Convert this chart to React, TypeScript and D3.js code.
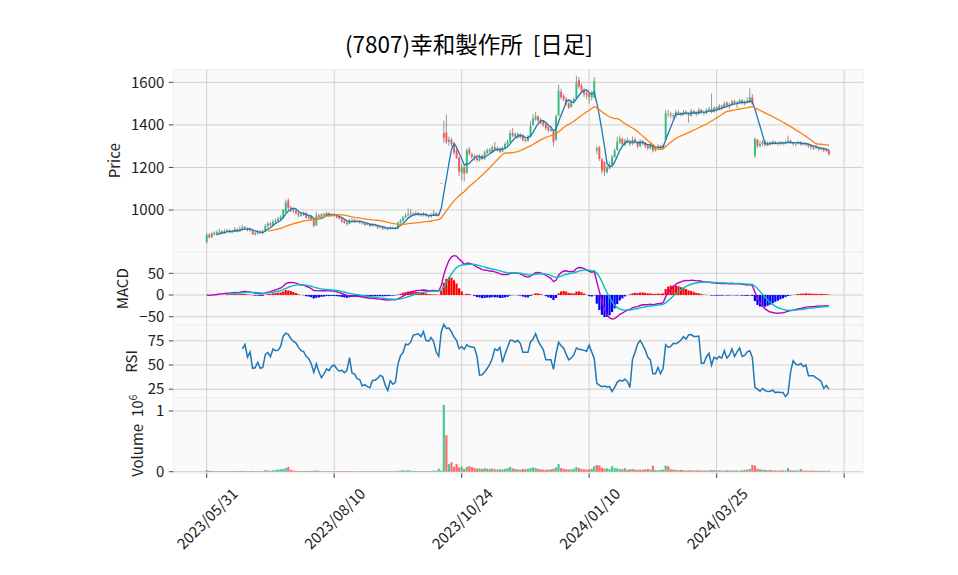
import React from 'react';
import * as d3 from 'd3';

const title = '(7807)幸和製作所\u00a0\u00a0[日足]';
const tickIdx = [0, 50, 100, 150, 200, 250];
const tickLabels = ['2023/05/31', '2023/08/10', '2023/10/24', '2024/01/10', '2024/03/25', ''];
const priceTicks = [1000, 1200, 1400, 1600];
const macdTicks = [-50, 0, 50];
const rsiTicks = [25, 50, 75];
const volTicks = [0, 1];

const opens = [
  850,885,872,893,884,890,900,890,898,906,
  895,900,910,900,910,920,915,903,905,885,
  890,900,892,900,925,938,930,945,950,955,
  965,990,1045,1012,1000,995,985,972,978,985,
  962,970,955,928,975,965,982,975,985,972,
  980,975,968,960,948,942,935,950,955,945,
  948,940,938,930,935,925,932,928,918,920,
  912,915,910,918,915,912,940,950,965,975,
  985,978,980,985,978,975,982,972,968,975,
  985,975,1125,1360,1365,1320,1330,1305,1280,1245,
  1175,1200,1175,1285,1262,1252,1245,1232,1255,1240,
  1268,1285,1272,1295,1280,1290,1275,1290,1308,1320,
  1362,1345,1358,1342,1352,1332,1325,1345,1400,1425,
  1440,1425,1415,1402,1390,1372,1370,1330,1445,1555,
  1535,1522,1500,1485,1510,1525,1610,1585,1565,1548,
  1545,1530,1530,1280,1295,1238,1225,1178,1195,1212,
  1248,1282,1318,1335,1305,1328,1322,1310,1332,1320,
  1300,1325,1315,1302,1290,1305,1280,1292,1300,1290,
  1330,1452,1450,1445,1440,1460,1455,1448,1462,1455,
  1442,1465,1460,1450,1470,1460,1455,1470,1475,1460,
  1482,1470,1490,1480,1505,1488,1495,1512,1500,1505,
  1515,1500,1510,1505,1530,1255,1330,1300,1310,1320,
  1305,1318,1310,1320,1315,1310,1318,1312,1318,1325,
  1315,1310,1312,1320,1308,1312,1310,1302,1298,1290,
  1295,1285,1290,1282,1280,
];
const highs = [
  892,890,895,900,905,912,905,910,912,910,
  908,920,915,925,930,925,918,916,908,900,
  905,904,908,935,945,942,955,960,968,975,
  1005,1048,1055,1020,1008,1000,990,988,992,990,
  978,975,960,990,982,985,988,992,990,985,
  985,980,972,962,955,948,958,962,958,955,
  952,948,942,942,938,938,936,932,928,924,
  922,918,924,922,920,945,958,972,985,1008,
  1005,990,995,990,985,990,986,978,985,1000,
  990,986,1125,1420,1450,1345,1340,1310,1290,1250,
  1215,1210,1290,1295,1270,1262,1250,1262,1260,1280,
  1290,1290,1305,1320,1300,1295,1298,1318,1330,1375,
  1385,1365,1362,1360,1358,1340,1352,1420,1450,1462,
  1445,1432,1420,1410,1395,1392,1375,1450,1590,1570,
  1545,1530,1510,1520,1530,1630,1625,1595,1575,1560,
  1555,1560,1625,1300,1300,1245,1230,1210,1225,1260,
  1290,1345,1350,1340,1335,1340,1330,1345,1340,1325,
  1332,1330,1320,1310,1315,1310,1300,1308,1305,1312,
  1470,1470,1462,1455,1470,1468,1460,1470,1468,1460,
  1475,1470,1465,1480,1475,1468,1478,1485,1548,1488,
  1486,1498,1495,1508,1510,1505,1518,1518,1512,1522,
  1520,1515,1530,1572,1545,1340,1335,1325,1330,1325,
  1322,1322,1328,1325,1320,1325,1322,1328,1350,1330,
  1320,1318,1325,1324,1318,1316,1314,1308,1302,1305,
  1298,1296,1294,1290,1284,
];
const lows = [
  842,865,868,880,880,886,885,888,894,890,
  890,896,895,897,905,908,900,898,882,880,
  885,886,885,898,918,922,925,938,945,950,
  960,985,1000,990,985,978,965,968,972,960,
  958,950,918,925,962,960,970,972,968,968,
  970,960,955,940,935,925,932,945,940,940,
  935,932,925,928,920,922,922,912,914,906,
  908,904,908,910,906,910,936,946,960,970,
  972,972,975,972,968,970,968,962,965,972,
  970,970,1125,1313,1310,1300,1300,1260,1240,1160,
  1140,1135,1170,1255,1240,1232,1225,1228,1235,1236,
  1262,1265,1270,1280,1275,1268,1270,1285,1300,1315,
  1342,1338,1335,1335,1322,1318,1320,1340,1395,1420,
  1412,1402,1390,1375,1365,1368,1300,1325,1440,1520,
  1510,1490,1475,1480,1500,1520,1570,1550,1530,1520,
  1500,1515,1525,1262,1230,1170,1160,1170,1190,1208,
  1245,1278,1310,1300,1300,1312,1300,1305,1312,1290,
  1295,1305,1290,1280,1285,1270,1275,1285,1282,1285,
  1325,1435,1430,1425,1435,1445,1440,1445,1448,1410,
  1440,1450,1440,1448,1452,1445,1450,1465,1455,1458,
  1462,1468,1475,1478,1485,1475,1490,1495,1480,1498,
  1495,1492,1500,1502,1495,1245,1290,1295,1300,1298,
  1300,1302,1305,1308,1302,1305,1305,1308,1315,1310,
  1302,1300,1308,1302,1304,1300,1292,1285,1282,1286,
  1278,1280,1272,1272,1255,
];
const closes = [
  882,872,890,885,895,898,892,900,905,898,
  902,908,900,912,918,915,905,910,888,892,
  898,893,900,925,935,930,945,950,958,968,
  1000,1035,1010,1000,995,985,975,980,985,965,
  970,955,925,975,968,980,975,985,972,980,
  975,965,960,945,940,935,950,955,945,948,
  940,938,930,935,925,932,928,918,920,912,
  915,910,918,915,912,940,950,965,975,980,
  980,980,985,978,975,982,972,968,975,985,
  975,980,1125,1340,1320,1330,1310,1270,1245,1180,
  1200,1170,1280,1265,1250,1245,1235,1255,1240,1270,
  1280,1275,1295,1285,1290,1275,1290,1310,1320,1360,
  1350,1355,1345,1350,1330,1325,1345,1395,1430,1440,
  1420,1410,1400,1385,1375,1380,1320,1440,1560,1530,
  1520,1500,1480,1510,1520,1600,1580,1560,1545,1540,
  1530,1550,1605,1290,1240,1185,1180,1200,1215,1250,
  1280,1320,1335,1310,1325,1320,1310,1330,1320,1300,
  1325,1315,1300,1290,1305,1280,1295,1300,1290,1305,
  1455,1450,1445,1440,1460,1455,1450,1460,1455,1445,
  1465,1460,1450,1470,1460,1455,1470,1475,1460,1480,
  1470,1490,1480,1500,1490,1495,1510,1500,1505,1515,
  1500,1510,1505,1530,1500,1335,1300,1310,1320,1305,
  1315,1310,1320,1315,1310,1318,1312,1320,1325,1315,
  1310,1312,1320,1308,1312,1310,1300,1295,1290,1295,
  1285,1290,1280,1280,1262,
];
// volume in thousands of shares
const volumesK = [
  25,15,12,10,12,8,10,12,9,11,
  10,14,9,12,15,10,9,8,14,10,
  9,8,10,25,20,14,22,30,35,40,
  45,60,80,30,18,15,12,10,12,14,
  10,12,18,20,12,10,9,11,10,8,
  9,8,10,12,10,9,11,8,7,8,
  7,8,9,7,10,8,7,9,8,10,
  8,9,7,8,9,15,18,22,20,25,
  18,12,14,10,9,12,10,9,11,20,
  15,50,20,1100,600,125,155,80,125,70,
  85,45,80,90,75,60,50,55,45,60,
  50,45,55,40,35,40,38,45,60,80,
  55,45,40,35,45,40,50,60,70,60,
  45,40,35,30,35,40,50,70,125,60,
  45,40,35,40,50,75,60,45,40,35,
  40,50,90,110,105,65,50,55,45,90,
  60,55,45,40,60,35,40,45,35,30,
  35,30,40,45,35,100,30,25,30,35,
  100,90,40,35,30,25,30,25,20,25,
  25,20,22,25,20,18,22,20,30,25,
  20,22,18,20,25,20,18,22,20,18,
  25,30,35,45,110,100,50,40,35,30,
  25,30,22,20,18,20,22,18,60,25,
  20,22,18,45,20,18,15,18,16,14,
  15,12,14,13,15,
];

// ---------- indicators ----------
function sma(arr: number[], n: number): (number | null)[] {
  return arr.map((_, i) => (i < n - 1 ? null : (d3.mean(arr.slice(i - n + 1, i + 1)) as number)));
}
function ema(arr: number[], span: number): number[] {
  const a = 2 / (span + 1);
  const out: number[] = [];
  arr.forEach((v, i) => out.push(i === 0 ? v : a * v + (1 - a) * out[i - 1]));
  return out;
}
function rsiCalc(arr: number[], n: number): (number | null)[] {
  const diff = arr.map((v, i) => (i === 0 ? 0 : v - arr[i - 1]));
  return arr.map((_, i) => {
    if (i < n) return null;
    const w = diff.slice(i - n + 1, i + 1);
    const g = d3.sum(w, (d) => (d > 0 ? d : 0));
    const l = d3.sum(w, (d) => (d < 0 ? -d : 0));
    return (100 * g) / (g + l);
  });
}

const W = 958;
const H = 575;
const X0 = 173.3;
const X1 = 863;
const FONT = "'Noto Sans CJK JP', 'Noto Sans', sans-serif";
const FACE = '#fafafa';
const GRID = '#d0d0d0';
const TFS = 15;
const UP = '#1cb86e';
const DOWN = '#fb4345';

export default function App() {
  const n = closes.length;
  const idx = d3.range(n);
  const x = d3.scaleLinear().domain([-13.1, 257.4]).range([X0, X1]);

  const pTop = 69.5, pBot = 252;
  const mTop = 252.5, mBot = 325;
  const rTop = 325.5, rBot = 397.5;
  const vTop = 398, vBot = 473.5;

  const yP = d3.scaleLinear().domain([802.7, 1660.2]).range([pBot, pTop]);
  const yM = d3.scaleLinear().domain([-69.1, 97.9]).range([mBot, mTop]);
  const yR = d3.scaleLinear().domain([16.4, 90.9]).range([rBot, rTop]);
  const yV = d3.scaleLinear().domain([-0.0297, 1.214]).range([vBot, vTop]);

  const ma5 = sma(closes, 5);
  const ma25 = sma(closes, 25);
  const e12 = ema(closes, 12);
  const e26 = ema(closes, 26);
  const macd = e12.map((v, i) => v - e26[i]);
  const sig = ema(macd, 9);
  const hist = macd.map((v, i) => v - sig[i]);
  const rsi = rsiCalc(closes, 14);

  const lineOf = (vals: (number | null)[], ys: d3.ScaleLinear<number, number>, start = 0) =>
    d3
      .line<number>()
      .defined((i) => i >= start && vals[i] != null)
      .x((i) => x(i))
      .y((i) => ys(vals[i] as number))(idx) || '';

  const bw = 1.9;
  const vw = 2.2;

  const panels = [
    { top: pTop, bot: pBot, ys: yP, ticks: priceTicks, fmt: (v: number) => String(v) },
    { top: mTop, bot: mBot, ys: yM, ticks: macdTicks, fmt: (v: number) => (v < 0 ? '\u2212' + Math.abs(v) : String(v)) },
    { top: rTop, bot: rBot, ys: yR, ticks: rsiTicks, fmt: (v: number) => String(v) },
    { top: vTop, bot: vBot, ys: yV, ticks: volTicks, fmt: (v: number) => String(v) },
  ];

  return (
    <svg
      width={W}
      height={H}
      viewBox={`0 0 ${W} ${H}`}
      style={{ position: 'absolute', left: 0, top: 0, background: '#fff' }}
      fontFamily={FONT}
    >
      <rect x={0} y={0} width={W} height={H} fill="#ffffff" />
      <text x={469} y={52.5} textAnchor="middle" fontSize={22.5} fill="#000">
        {title}
      </text>

      {panels.map((p, k) => (
        <g key={'panel' + k}>
          <rect x={X0} y={p.top} width={X1 - X0} height={p.bot - p.top} fill={FACE} stroke="#f0f0f0" strokeWidth={1} />
          {tickIdx.map((t) => (
            <line key={'vg' + t} x1={x(t)} x2={x(t)} y1={p.top} y2={p.bot} stroke={GRID} strokeWidth={1} />
          ))}
          {p.ticks.map((t) => (
            <g key={'hg' + t}>
              <line x1={X0} x2={X1} y1={p.ys(t)} y2={p.ys(t)} stroke={GRID} strokeWidth={1} />
              <line x1={X0 - 4.5} x2={X0} y1={p.ys(t)} y2={p.ys(t)} stroke="#333" strokeWidth={0.9} />
              <text x={X0 - 9} y={p.ys(t)} dy="0.35em" textAnchor="end" fontSize={TFS} fill="#222">
                {p.fmt(t)}
              </text>
            </g>
          ))}
        </g>
      ))}

      {/* candles */}
      <g>
        {idx.map((i) => {
          const isUp = closes[i] > opens[i];
          const col = isUp ? UP : DOWN;
          const top = yP(Math.max(opens[i], closes[i]));
          const bot = yP(Math.min(opens[i], closes[i]));
          return (
            <g key={'c' + i} opacity={0.9}>
              <line x1={x(i)} x2={x(i)} y1={yP(highs[i])} y2={yP(lows[i])} stroke="#707070" strokeWidth={0.8} />
              <rect x={x(i) - bw / 2} y={top} width={bw} height={Math.max(bot - top, 0.6)} fill={col} />
            </g>
          );
        })}
      </g>
      <path d={lineOf(ma5, yP)} fill="none" stroke="#1f77b4" strokeWidth={1.3} />
      <path d={lineOf(ma25, yP)} fill="none" stroke="#ff7f0e" strokeWidth={1.3} />

      {/* MACD */}
      <g>
        {idx
          .filter((i) => i >= 8)
          .map((i) => {
            const v = hist[i];
            return (
              <rect
                key={'h' + i}
                x={x(i) - vw / 2}
                y={Math.min(yM(v), yM(0))}
                width={vw}
                height={Math.abs(yM(v) - yM(0))}
                fill={v >= 0 ? '#ff0000' : '#0000ff'}
              />
            );
          })}
      </g>
      <path d={lineOf(macd, yM)} fill="none" stroke="#bf00bf" strokeWidth={1.4} />
      <path d={lineOf(sig, yM, 8)} fill="none" stroke="#00bfbf" strokeWidth={1.4} />

      {/* RSI */}
      <path d={lineOf(rsi, yR)} fill="none" stroke="#1f77b4" strokeWidth={1.5} />

      {/* Volume */}
      <g>
        {idx.map((i) => {
          const v = volumesK[i] / 1000;
          const upv = i === 0 ? closes[i] >= opens[i] : closes[i] >= closes[i - 1];
          return (
            <rect
              key={'v' + i}
              x={x(i) - vw / 2}
              y={yV(v)}
              width={vw}
              height={yV(0) - yV(v)}
              fill={upv ? '#4dc790' : '#fd6b6c'}
            />
          );
        })}
      </g>

      {/* x ticks */}
      {tickIdx.map((t, k) => (
        <g key={'xt' + t}>
          <line x1={x(t)} x2={x(t)} y1={vBot} y2={vBot + 4.5} stroke="#333" strokeWidth={0.9} />
          {tickLabels[k] && (
            <text
              transform={`translate(${x(t)},${518}) rotate(-45)`}
              textAnchor="middle"
              dominantBaseline="central"
              fontSize={TFS}
              fill="#222"
            >
              {tickLabels[k]}
            </text>
          )}
        </g>
      ))}

      {/* y labels */}
      <text transform={`translate(120,${(pTop + pBot) / 2}) rotate(-90)`} textAnchor="middle" fontSize={TFS} fill="#222">
        Price
      </text>
      <text transform={`translate(128.3,${(mTop + mBot) / 2}) rotate(-90)`} textAnchor="middle" fontSize={TFS} fill="#222">
        MACD
      </text>
      <text transform={`translate(137,${(rTop + rBot) / 2}) rotate(-90)`} textAnchor="middle" fontSize={TFS} fill="#222">
        RSI
      </text>
      <text transform={`translate(143,${(vTop + vBot) / 2}) rotate(-90)`} textAnchor="middle" fontSize={TFS} fill="#222">
        {'Volume\u00a0\u00a010'}
        <tspan dy={-6} fontSize={10.5}>
          6
        </tspan>
      </text>
    </svg>
  );
}
